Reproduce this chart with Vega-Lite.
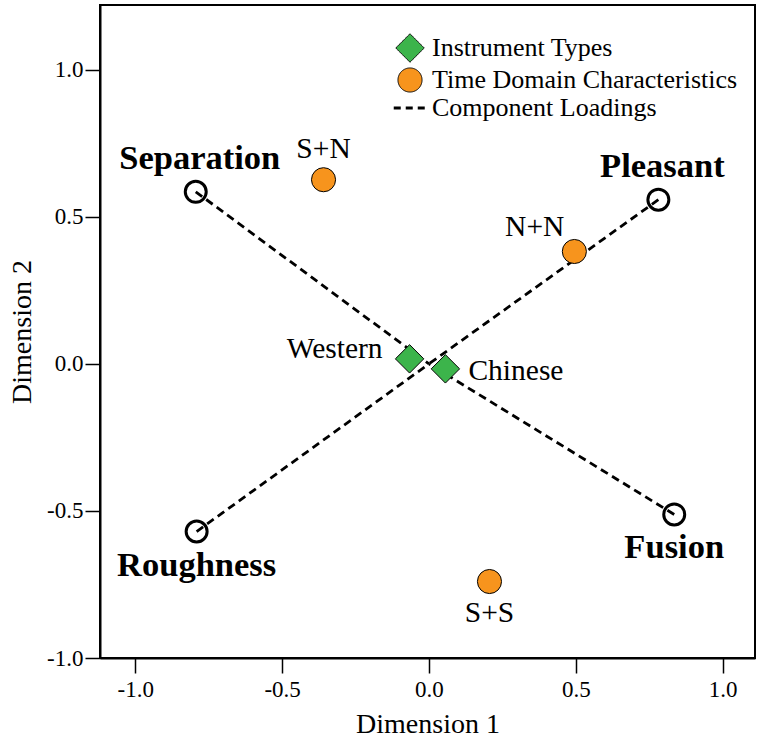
{
  "$schema": "https://vega.github.io/schema/vega-lite/v6.json",
  "width": 655,
  "height": 653,
  "autosize": "none",
  "padding": {"left": 100, "top": 5, "right": 10, "bottom": 86},
  "background": "white",
  "config": {
    "view": {"stroke": "black", "strokeWidth": 2},
    "font": "Liberation Serif",
    "axis": {
      "labelFont": "Liberation Serif",
      "titleFont": "Liberation Serif",
      "labelFontSize": 23,
      "titleFontSize": 28,
      "titleFontWeight": "normal",
      "labelColor": "black",
      "titleColor": "black",
      "tickColor": "black",
      "tickSize": 15,
      "tickWidth": 1.5,
      "domainColor": "black",
      "domainWidth": 2,
      "grid": false
    }
  },
  "datasets": {
    "loadings": [
      {"name": "Separation", "type": "Component Loadings", "x": -0.794, "y": 0.585},
      {"name": "Pleasant", "type": "Component Loadings", "x": 0.781, "y": 0.558},
      {"name": "Roughness", "type": "Component Loadings", "x": -0.791, "y": -0.57},
      {"name": "Fusion", "type": "Component Loadings", "x": 0.835, "y": -0.512}
    ],
    "points": [
      {"name": "Western", "type": "Instrument Types", "x": -0.066, "y": 0.017},
      {"name": "Chinese", "type": "Instrument Types", "x": 0.056, "y": -0.017},
      {"name": "S+N", "type": "Time Domain Characteristics", "x": -0.359, "y": 0.626},
      {"name": "N+N", "type": "Time Domain Characteristics", "x": 0.495, "y": 0.382},
      {"name": "S+S", "type": "Time Domain Characteristics", "x": 0.206, "y": -0.74}
    ]
  },
  "encoding": {
    "x": {
      "field": "x", "type": "quantitative",
      "scale": {"domain": [-1.12, 1.11], "nice": false, "zero": false},
      "axis": {"title": "Dimension 1", "values": [-1, -0.5, 0, 0.5, 1], "labelExpr": "replace(format(datum.value, '.1f'), '\u2212', '-')", "labelPadding": 5, "titlePadding": 9}
    },
    "y": {
      "field": "y", "type": "quantitative",
      "scale": {"domain": [-1.0, 1.22], "nice": false, "zero": false},
      "axis": {"title": "Dimension 2", "values": [-1, -0.5, 0, 0.5, 1], "labelExpr": "replace(format(datum.value, '.1f'), '\u2212', '-')", "labelPadding": 2, "titlePadding": 10}
    }
  },
  "layer": [
    {
      "mark": {"type": "rule", "stroke": "#b8b8b8", "strokeWidth": 1.5, "strokeDash": [2, 3]},
      "encoding": {"x": {"datum": 0}, "y": null}
    },
    {
      "mark": {"type": "rule", "stroke": "#b8b8b8", "strokeWidth": 1.5, "strokeDash": [2, 3]},
      "encoding": {"y": {"datum": 0}, "x": null}
    },
    {
      "data": {"name": "loadings"},
      "mark": {"type": "rule", "stroke": "black", "strokeWidth": 2.8, "strokeDash": [8, 5]},
      "encoding": {"x2": {"datum": 0}, "y2": {"datum": 0}}
    },
    {
      "data": {"name": "loadings"},
      "mark": {"type": "point", "filled": false, "stroke": "black", "strokeWidth": 3, "size": 440, "shape": "circle", "opacity": 1}
    },
    {
      "data": {"name": "points"},
      "mark": {"type": "point", "filled": true, "stroke": "black", "strokeWidth": 1, "size": 580, "opacity": 1},
      "encoding": {
        "color": {
          "field": "type", "type": "nominal",
          "scale": {"domain": ["Instrument Types", "Time Domain Characteristics", "Component Loadings"], "range": ["#3cb44b", "#f7941d", "black"]},
          "legend": {
            "title": null,
            "orient": "none",
            "legendX": 297,
            "legendY": 30,
            "padding": 0,
            "labelFont": "Liberation Serif",
            "labelFontSize": 26,
            "labelColor": "black",
            "labelOffset": 9,
            "labelLimit": 0,
            "rowPadding": 0,
            "symbolSize": 580,
            "symbolStrokeColor": "black",
            "symbolStrokeWidth": 1,
            "symbolOpacity": 1,
            "encode": {
              "symbols": {
                "update": {
                  "strokeDash": {"signal": "datum.value === 'Component Loadings' ? [7, 5] : [1, 0]"},
                  "strokeWidth": {"signal": "datum.value === 'Component Loadings' ? 2.8 : 1"},
                  "stroke": {"value": "black"}
                }
              }
            }
          }
        },
        "shape": {
          "field": "type", "type": "nominal",
          "scale": {"domain": ["Instrument Types", "Time Domain Characteristics", "Component Loadings"], "range": ["M-1.18,0L0,-1.18L1.18,0L0,1.18Z", "circle", "M-1.35,0L1.35,0"]}
        }
      }
    },
    {
      "data": {"name": "loadings"},
      "transform": [{"filter": "datum.y > 0"}],
      "mark": {"type": "text", "font": "Liberation Serif", "fontSize": 34.5, "fontWeight": "bold", "baseline": "alphabetic", "dx": 4, "dy": -23, "color": "black"},
      "encoding": {"text": {"field": "name"}}
    },
    {
      "data": {"name": "loadings"},
      "transform": [{"filter": "datum.y < 0"}],
      "mark": {"type": "text", "font": "Liberation Serif", "fontSize": 34.5, "fontWeight": "bold", "baseline": "alphabetic", "dx": 0, "dy": 44, "color": "black"},
      "encoding": {"text": {"field": "name"}}
    },
    {
      "data": {"name": "points"},
      "transform": [{"filter": {"field": "name", "oneOf": ["S+N"]}}],
      "mark": {"type": "text", "font": "Liberation Serif", "fontSize": 29.5, "baseline": "alphabetic", "dy": -22, "color": "black"},
      "encoding": {"text": {"field": "name"}}
    },
    {
      "data": {"name": "points"},
      "transform": [{"filter": {"field": "name", "oneOf": ["S+S"]}}],
      "mark": {"type": "text", "font": "Liberation Serif", "fontSize": 29.5, "baseline": "alphabetic", "dy": 40, "color": "black"},
      "encoding": {"text": {"field": "name"}}
    },
    {
      "data": {"name": "points"},
      "transform": [{"filter": {"field": "name", "oneOf": ["N+N"]}}],
      "mark": {"type": "text", "font": "Liberation Serif", "fontSize": 29.5, "baseline": "alphabetic", "align": "right", "dx": -10, "dy": -15, "color": "black"},
      "encoding": {"text": {"field": "name"}}
    },
    {
      "data": {"name": "points"},
      "transform": [{"filter": {"field": "name", "oneOf": ["Western"]}}],
      "mark": {"type": "text", "font": "Liberation Serif", "fontSize": 29.5, "baseline": "alphabetic", "align": "right", "dx": -27, "dy": -1, "color": "black"},
      "encoding": {"text": {"field": "name"}}
    },
    {
      "data": {"name": "points"},
      "transform": [{"filter": {"field": "name", "oneOf": ["Chinese"]}}],
      "mark": {"type": "text", "font": "Liberation Serif", "fontSize": 29.5, "baseline": "alphabetic", "align": "left", "dx": 23, "dy": 11, "color": "black"},
      "encoding": {"text": {"field": "name"}}
    }
  ]
}
